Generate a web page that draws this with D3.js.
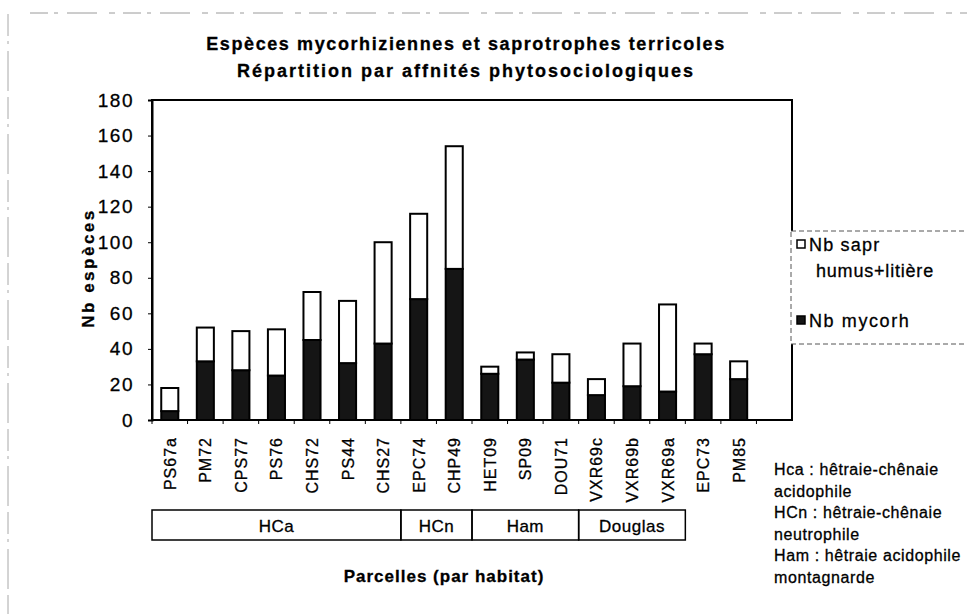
<!DOCTYPE html>
<html>
<head>
<meta charset="utf-8">
<script src="https://cdn.jsdelivr.net/npm/d3@7"></script>
<style>
  body { margin: 0; background: #fff; }
  svg { display: block; font-family: "Liberation Sans", Arial, sans-serif; }
  svg text { fill: #000; stroke: #000; stroke-width: 0.3px; }
</style>
</head>
<body>
<svg id="chart" width="967" height="614"></svg>
<script>
var parcelles = ['PS67a', 'PM72', 'CPS77', 'PS76', 'CHS72', 'PS44', 'CHS27', 'EPC74', 'CHP49',
                 'HET09', 'SP09', 'DOU71', 'VXR69c', 'VXR69b', 'VXR69a', 'EPC73', 'PM85'];
var mycorh = [5, 33, 28, 25, 45, 32, 43, 68, 85, 26, 34, 21, 14, 19, 16, 37, 23];
var sapr   = [13, 19, 22, 26, 27, 35, 57, 48, 69, 4, 4, 16, 9, 24, 49, 6, 10];
var yTicks = [0, 20, 40, 60, 80, 100, 120, 140, 160, 180];

var habitats     = ['HCa', 'HCn', 'Ham', 'Douglas'];
var habitatFirst = ['PS67a', 'EPC74', 'HET09', 'VXR69c'];
var habitatLast  = ['CHS27', 'CHP49', 'DOU71', 'VXR69a'];

var notes = ['Hca : hêtraie-chênaie', 'acidophile', 'HCn : hêtraie-chênaie',
             'neutrophile', 'Ham : hêtraie acidophile', 'montagnarde'];

var svg = d3.select('#chart');
var plotLeft = 152, plotRight = 792, plotTop = 100, plotBottom = 420;

// 18 slots, the last one stays empty like in the original sheet
var slots = parcelles.concat(['_vide']);
var xSlot = d3.scaleBand().domain(slots).range([plotLeft, plotRight]);
var x = d3.scaleBand().domain(slots).range([plotLeft, plotRight]).paddingInner(0.52).paddingOuter(0.26);
var y = d3.scaleLinear().domain([0, 180]).range([plotBottom, plotTop]);

// page border of the scan
svg.append('line')
  .attr('x1', 30).attr('x2', 967).attr('y1', 13).attr('y2', 13)
  .attr('stroke', '#9a9a9a').attr('stroke-width', 1)
  .attr('stroke-dasharray', '18,6,4,9,30,12,6,8');
svg.append('line')
  .attr('x1', 8).attr('x2', 8).attr('y1', 14).attr('y2', 614)
  .attr('stroke', '#a8a8a8').attr('stroke-width', 1)
  .attr('stroke-dasharray', '22,5,3,7,40,6');

// titles
svg.append('text')
  .attr('x', 466).attr('y', 50)
  .attr('text-anchor', 'middle')
  .attr('font-size', 18).attr('font-weight', 'bold')
  .attr('letter-spacing', 1.6)
  .text('Espèces mycorhiziennes et saprotrophes terricoles');
svg.append('text')
  .attr('x', 466).attr('y', 77)
  .attr('text-anchor', 'middle')
  .attr('font-size', 18).attr('font-weight', 'bold')
  .attr('letter-spacing', 2)
  .text('Répartition par affnités phytosociologiques');

// bars
var table = parcelles.map(function(p, i) {
  return {parcelle: p, mycorh: mycorh[i], sapr: sapr[i]};
});
var series = d3.stack().keys(['mycorh', 'sapr'])(table);
var colors = {mycorh: '#151515', sapr: '#ffffff'};

svg.append('g')
  .selectAll('g')
  .data(series)
  .join('g')
  .attr('fill', function(d) { return colors[d.key]; })
  .selectAll('rect')
  .data(function(d) { return d; })
  .join('rect')
  .attr('x', function(d) { return x(d.data.parcelle); })
  .attr('width', x.bandwidth())
  .attr('y', function(d) { return y(d[1]); })
  .attr('height', function(d) { return y(d[0]) - y(d[1]); })
  .attr('stroke', '#000')
  .attr('stroke-width', 2);

// plot frame
svg.append('rect')
  .attr('x', plotLeft).attr('y', plotTop)
  .attr('width', plotRight - plotLeft).attr('height', plotBottom - plotTop)
  .attr('fill', 'none').attr('stroke', '#000').attr('stroke-width', 2);

// y axis
var yAxis = svg.append('g')
  .attr('transform', 'translate(' + plotLeft + ',0)')
  .call(d3.axisLeft(y).tickValues(yTicks).tickSize(4).tickPadding(14));
yAxis.select('.domain').attr('stroke-width', 2);
yAxis.selectAll('text')
  .attr('font-size', 19)
  .attr('letter-spacing', 1.5)
  .attr('font-family', '"Liberation Sans", Arial, sans-serif');

// x axis: ticks on slot boundaries
var xAxis = svg.append('g')
  .attr('transform', 'translate(0,' + plotBottom + ')');
xAxis.selectAll('line')
  .data(slots)
  .join('line')
  .attr('x1', function(d) { return xSlot(d); })
  .attr('x2', function(d) { return xSlot(d); })
  .attr('y1', 0).attr('y2', 4)
  .attr('stroke', '#000');
xAxis.selectAll('text')
  .data(parcelles)
  .join('text')
  .attr('transform', function(d) {
    return 'translate(' + (x(d) + x.bandwidth() / 2 + 6) + ',17) rotate(-90)';
  })
  .attr('text-anchor', 'end')
  .attr('font-size', 16)
  .attr('letter-spacing', 1)
  .text(function(d) { return d; });

// habitat boxes
var boxTop = 510, boxBottom = 540;
var boxes = svg.append('g');
habitats.forEach(function(h, i) {
  var x0 = xSlot(habitatFirst[i]);
  var x1 = xSlot(habitatLast[i]) + xSlot.bandwidth();
  boxes.append('rect')
    .attr('x', x0).attr('y', boxTop)
    .attr('width', x1 - x0).attr('height', boxBottom - boxTop)
    .attr('fill', 'none').attr('stroke', '#000').attr('stroke-width', 1.5);
  boxes.append('text')
    .attr('x', (x0 + x1) / 2).attr('y', 532)
    .attr('text-anchor', 'middle')
    .attr('font-size', 17)
    .attr('letter-spacing', 0.5)
    .text(h);
});

// axis titles
svg.append('text')
  .attr('transform', 'translate(' + 94 + ',' + 268 + ') rotate(-90)')
  .attr('text-anchor', 'middle')
  .attr('font-size', 17).attr('font-weight', 'bold')
  .attr('letter-spacing', 2.5)
  .text('Nb espèces');
svg.append('text')
  .attr('x', 444).attr('y', 582)
  .attr('text-anchor', 'middle')
  .attr('font-size', 17).attr('font-weight', 'bold')
  .attr('letter-spacing', 1)
  .text('Parcelles (par habitat)');

// legend
var legend = svg.append('g');
legend.append('rect')
  .attr('x', 791).attr('y', 231)
  .attr('width', 190).attr('height', 113)
  .attr('fill', '#fff').attr('stroke', '#555')
  .attr('stroke-dasharray', '5,3');
legend.append('rect')
  .attr('x', 797).attr('y', 240).attr('width', 8).attr('height', 8)
  .attr('fill', colors.sapr).attr('stroke', '#000').attr('stroke-width', 1.5);
legend.append('text')
  .attr('x', 809).attr('y', 251)
  .attr('font-size', 18).attr('letter-spacing', 1.2)
  .text('Nb sapr');
legend.append('text')
  .attr('x', 816).attr('y', 277)
  .attr('font-size', 18).attr('letter-spacing', 0.8)
  .text('humus+litière');
legend.append('rect')
  .attr('x', 797).attr('y', 316).attr('width', 8).attr('height', 8)
  .attr('fill', colors.mycorh).attr('stroke', '#000').attr('stroke-width', 1.5);
legend.append('text')
  .attr('x', 809).attr('y', 327)
  .attr('font-size', 18).attr('letter-spacing', 1.6)
  .text('Nb mycorh');

// notes on the habitats
svg.append('g')
  .selectAll('text')
  .data(notes)
  .join('text')
  .attr('x', 774)
  .attr('y', function(d, i) { return 475 + i * 21.6; })
  .attr('font-size', 16)
  .attr('letter-spacing', 0.6)
  .text(function(d) { return d; });
</script>
</body>
</html>
